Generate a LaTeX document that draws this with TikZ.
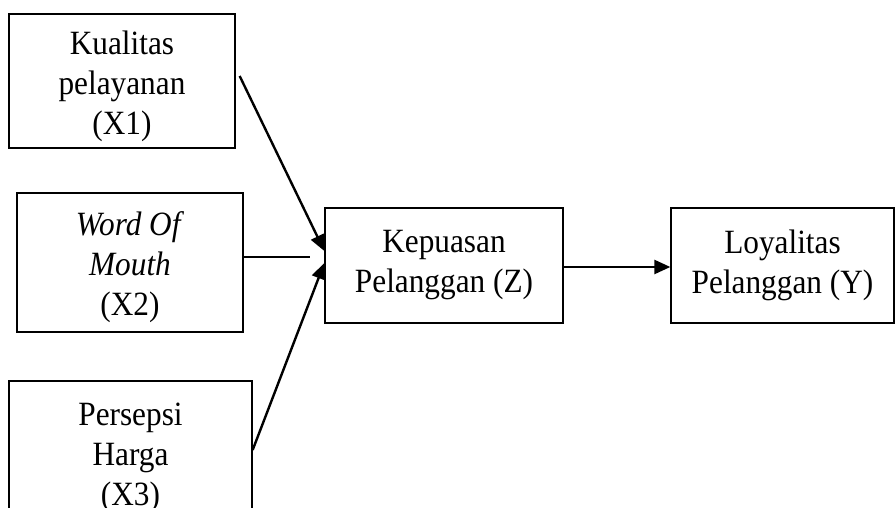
\documentclass[tikz,border=0pt]{standalone}
\usepackage{fontspec}
\setmainfont{Liberation Serif}[FakeStretch=0.92]
\usetikzlibrary{arrows.meta}
\newcommand{\topgap}{\rule{0pt}{34pt}}
\newcommand{\smallgap}{\rule{0pt}{28pt}}
\begin{document}
\begin{tikzpicture}[x=1pt,y=1pt,
  box/.style={draw, line width=1.3pt, align=center, inner sep=0pt,
    font=\fontsize{34}{40}\selectfont, anchor=center},
  conn/.style={line width=2.4pt},
  arr/.style={conn, -{Triangle[length=16pt,width=14pt]}}]
\useasboundingbox (0,0) rectangle (896,508);
\clip (0,0) rectangle (896,508);
\node[box, minimum width=226pt, minimum height=134pt] (x1) at (122,427) {\topgap Kualitas\\pelayanan\\(X1)};
\node[box, minimum width=226pt, minimum height=139pt] (x2) at (130,245.5) {\topgap\textit{Word Of}\\\textit{Mouth}\\(X2)};
\node[box, minimum width=243pt, minimum height=148pt] (x3) at (130.5,53) {\smallgap Persepsi\\Harga\\(X3)};
\node[box, minimum width=238pt, minimum height=115pt] (z) at (444,242.5) {Kepuasan\\Pelanggan (Z)};
\node[box, minimum width=223pt, minimum height=115pt] (y) at (782.5,242.5) {Loyalitas\\Pelanggan (Y)};
\coordinate (x2end) at ([xshift=-14pt,yshift=8.5pt]z.west);
\draw[arr] ([xshift=4pt,yshift=5pt]x1.east) -- ([yshift=14.5pt]z.west);
\draw[conn] ([yshift=5.5pt]x2.east) -- (x2end);
\draw[arr] ([yshift=5pt]x3.east) -- ([yshift=2.5pt]z.west);
\draw[arr] ([yshift=-1.5pt]z.east) -- ([yshift=-1.5pt]y.west);
\end{tikzpicture}
\end{document}
